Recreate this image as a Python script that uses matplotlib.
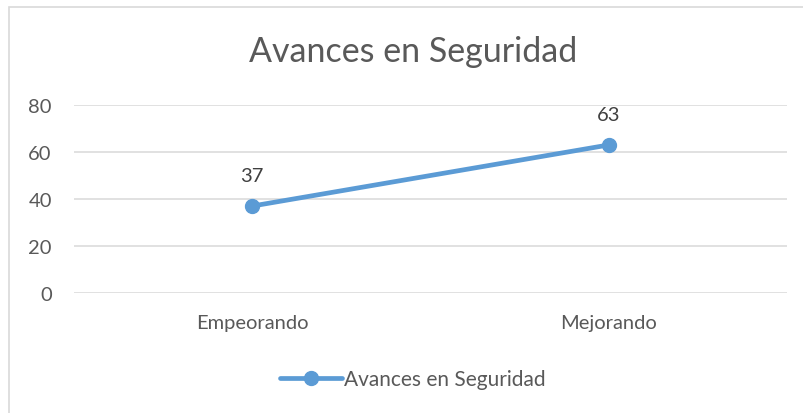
import matplotlib.pyplot as plt
from matplotlib.patches import Rectangle

# datos
categorias = ['Empeorando', 'Mejorando']
valores = [37, 63]
serie = 'Avances en Seguridad'
yticks = [0, 20, 40, 60, 80]

plt.rcParams['font.family'] = ['Lato', 'DejaVu Sans']
gris = '#595959'
azul = '#5B9BD5'

fig = plt.figure(figsize=(8.04, 4.14), dpi=100)
fig.patches.append(Rectangle((9/804, -0.01), 1.0, 1 - 8/414 + 0.01,
                             transform=fig.transFigure, fill=False,
                             edgecolor='#D9D9D9', linewidth=1.2))

ax = fig.add_axes([74/804, (414-294)/414, 713/804, 188/414])
x = list(range(len(categorias)))
ax.plot(x, valores, color=azul, linewidth=3.4, marker='o', markersize=10,
        solid_capstyle='round', label=serie, zorder=3)
for xi, v in zip(x, valores):
    ax.annotate(str(v), (xi, v), xytext=(0, 16), textcoords='offset points',
                ha='center', va='bottom', fontsize=14.5, color='#404040')

ax.set_xlim(-0.5, 1.5)
ax.set_ylim(0, 80)
ax.set_yticks(yticks)
ax.set_xticks(x)
ax.set_xticklabels(categorias)
ax.grid(axis='y', color='#D9D9D9', linewidth=1.1)
ax.set_axisbelow(True)
for s in ax.spines.values():
    s.set_visible(False)
ax.tick_params(length=0, labelsize=14.5, colors=gris, pad=16)
ax.tick_params(axis='x', pad=15)

fig.text(413/804, 1 - 52/414, serie, ha='center', va='center',
         fontsize=24.5, color=gris)

leg = fig.legend(loc='center', bbox_to_anchor=(413/804, 1 - 380/414),
                 frameon=False, fontsize=15, handlelength=3.0,
                 handletextpad=0.1, labelcolor=gris)

fig.savefig('out.png', dpi=100)
